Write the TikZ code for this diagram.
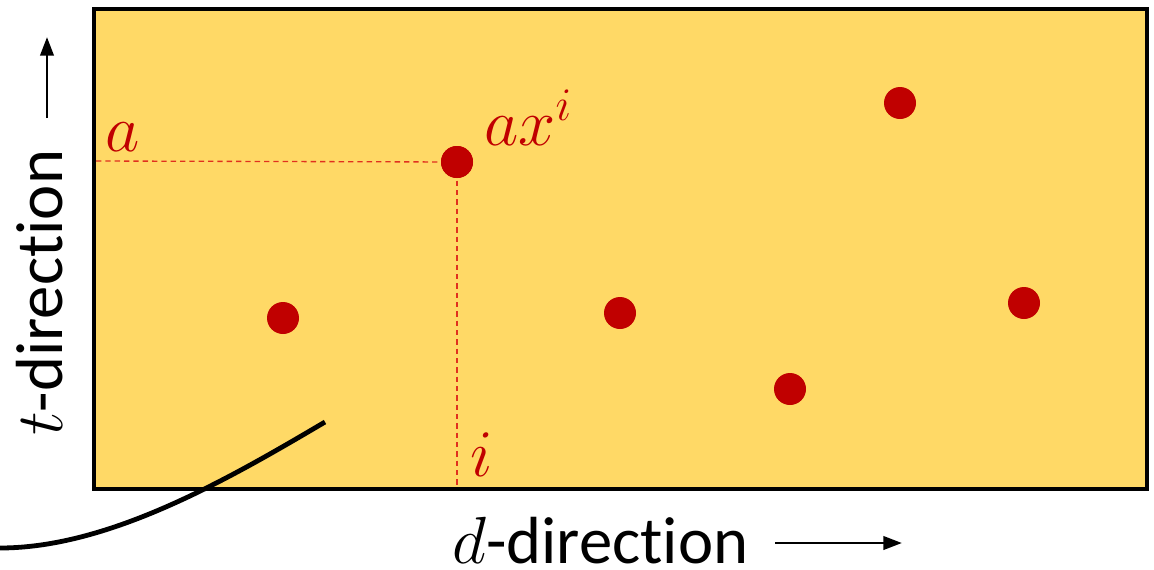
\RequirePackage{fix-cm}
\documentclass[tikz,border=0pt]{standalone}
\usepackage{fontspec}
\setmainfont[Ligatures={NoCommon,NoRare}]{Carlito}
\usetikzlibrary{arrows.meta}
\definecolor{boxfill}{HTML}{FFD966}
\definecolor{dotred}{HTML}{C00000}
\definecolor{dashred}{HTML}{E0301E}
\tikzset{
  dot/.style={circle,fill=dotred,inner sep=0pt,minimum size=24pt},
  redlbl/.style={text=dotred,font=\fontsize{50}{54}\selectfont,inner sep=0pt},
  axislbl/.style={font=\fontsize{50}{54}\selectfont,inner sep=0pt},
  guide/.style={dashred,line width=1pt,dash pattern=on 4pt off 3pt},
  axisarrow/.style={line width=2.2pt,-{Triangle[length=14pt,width=10pt]}},
}
\begin{document}
\begin{tikzpicture}[x=0.75pt,y=-0.75pt]
\useasboundingbox (0,0) rectangle (1154,569);
\draw[fill=boxfill,line width=3.2pt] (94,9) rectangle (1147,489);
\node[dot] (p1) at (457,162) {};
\node[dot] (p2) at (283,318) {};
\node[dot] (p3) at (620,313) {};
\node[dot] (p4) at (790,389) {};
\node[dot] (p5) at (900,103) {};
\node[dot] (p6) at (1024,303) {};
\coordinate (hstart) at (96,161);
\coordinate (vend) at (457,487);
\draw[guide] (hstart) -- (p1.center);
\draw[guide] (p1.center) -- (vend);
\node[dot] at (p1) {};
\node[redlbl,anchor=base west] (la) at (105,151) {$a$};
\node[redlbl,anchor=base west] (lax) at (484,145) {$ax^{\scriptstyle i}$};
\node[redlbl,anchor=base west] (li) at (470,476) {$i$};
\coordinate (c0) at (0,548);
\coordinate (c1) at (325,422);
\draw[line width=3.6pt] (c0) .. controls (110,548) and (230,478) .. (c1);
\node[axislbl,anchor=base west] (dlbl) at (452,563) {$d$-direction};
\coordinate (da) at (775,543);
\coordinate (db) at (902,543);
\draw[axisarrow] (da) -- (db);
\node[axislbl,anchor=base west,rotate=90] (tlbl) at (62,436) {$t$-direction};
\coordinate (ta) at (47,118);
\coordinate (tb) at (47,37);
\draw[axisarrow] (ta) -- (tb);
\end{tikzpicture}
\end{document}
